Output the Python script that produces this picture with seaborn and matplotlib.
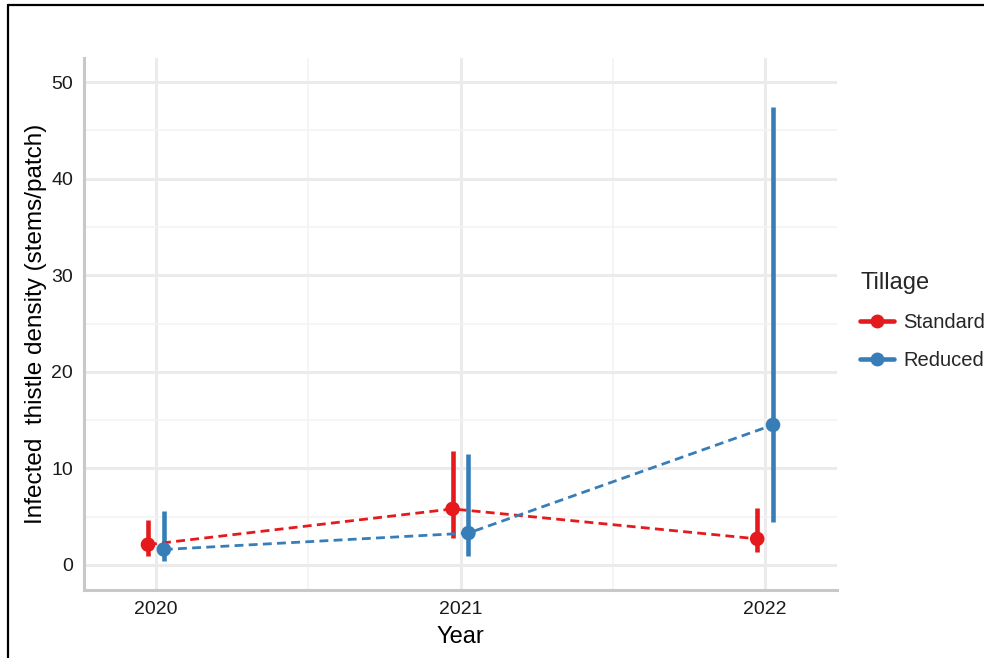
import matplotlib
matplotlib.use("Agg")
import matplotlib.pyplot as plt
from matplotlib.lines import Line2D
import numpy as np
import pandas as pd
import seaborn as sns

# Infected thistle density by year and tillage treatment (mean with interval)
years = [2020, 2021, 2022]
standard_mean = [2.1, 5.8, 2.7]
standard_low = [0.9, 2.8, 1.3]
standard_high = [4.7, 11.8, 5.9]
reduced_mean = [1.6, 3.3, 14.5]
reduced_low = [0.4, 0.9, 4.4]
reduced_high = [5.6, 11.5, 47.4]

treatments = ["Standard", "Reduced"]
palette = {"Standard": "#E41A1C", "Reduced": "#377EB8"}
dodge = {"Standard": -0.026, "Reduced": 0.026}

df = pd.DataFrame({
    "Year": years * 2,
    "Tillage": ["Standard"] * 3 + ["Reduced"] * 3,
    "mean": standard_mean + reduced_mean,
    "low": standard_low + reduced_low,
    "high": standard_high + reduced_high,
})
df["pos"] = df["Year"] + df["Tillage"].map(dodge)

sns.set_theme(style="white")
plt.rcParams["font.family"] = ["Liberation Sans", "DejaVu Sans"]

fig = plt.figure(figsize=(9.84, 6.58), dpi=100)
ax = fig.add_axes([0.0854, 0.1033, 0.7652, 0.8086])

# grid: major and minor lines like a minimal theme
ax.set_xlim(2019.764, 2022.236)
ax.set_ylim(-2.6, 52.5)
ax.set_xticks(years)
ax.set_xticks([2020.5, 2021.5], minor=True)
ax.set_yticks([0, 10, 20, 30, 40, 50])
ax.set_yticks([5, 15, 25, 35, 45], minor=True)
ax.grid(which="major", color="#EBEBEB", linewidth=2.2)
ax.grid(which="minor", color="#F3F3F3", linewidth=1.1)
ax.set_axisbelow(True)
ax.tick_params(which="both", length=0)
ax.tick_params(axis="both", labelsize=14, colors="#1a1a1a", pad=8)

for side in ["top", "right"]:
    ax.spines[side].set_visible(False)
for side in ["left", "bottom"]:
    ax.spines[side].set_color("#C8C8C8")
    ax.spines[side].set_linewidth(2.2)

# interval bars
for t in treatments:
    sub = df[df["Tillage"] == t]
    ax.vlines(sub["pos"], sub["low"], sub["high"], color=palette[t],
              linewidth=3.3, zorder=3)

# dashed trend lines and mean points
sns.lineplot(data=df, x="pos", y="mean", hue="Tillage", palette=palette,
             hue_order=treatments, linewidth=2.0, legend=False, ax=ax,
             zorder=4)
for line in ax.get_lines():
    line.set_linestyle((0, (3.2, 1.9)))
sns.scatterplot(data=df, x="pos", y="mean", hue="Tillage", palette=palette,
                hue_order=treatments, s=110, linewidth=0, legend=False,
                ax=ax, zorder=5)

ax.set_xticklabels([str(y) for y in years])
ax.set_xlabel("Year", fontsize=17, labelpad=6, color="black")
ax.set_ylabel("Infected  thistle density (stems/patch)", fontsize=17.5,
              labelpad=3, color="black")

handles = [Line2D([0], [0], color=palette[t], linewidth=3.3, marker="o",
                  markersize=10, markeredgewidth=0) for t in treatments]
leg = fig.legend(handles, treatments, title="Tillage", loc="upper left",
                 bbox_to_anchor=(0.866, 0.599), frameon=False, fontsize=14.5,
                 title_fontsize=17, handlelength=1.7, handletextpad=0.45,
                 labelspacing=0.95, borderaxespad=0)
leg._legend_box.align = "left"
leg._legend_box.sep = 14

# outer frame along the top and left edges
fig.add_artist(Line2D([8 / 984, 8 / 984], [0, 1 - 5 / 658], color="black",
                      linewidth=1.6, transform=fig.transFigure))
fig.add_artist(Line2D([8 / 984, 1], [1 - 5 / 658, 1 - 5 / 658],
                      color="black", linewidth=1.6, transform=fig.transFigure))

fig.savefig("out.png", dpi=100)
